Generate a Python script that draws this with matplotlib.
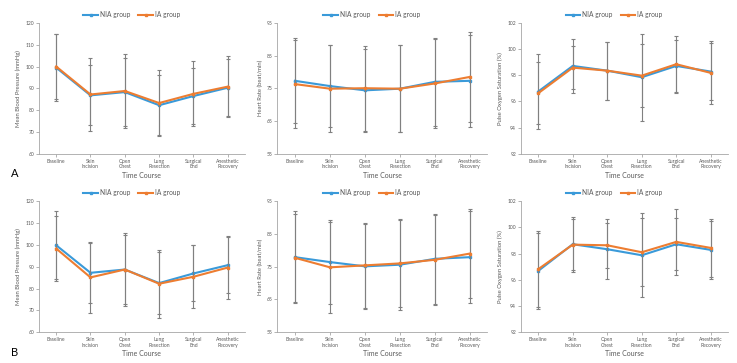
import matplotlib
matplotlib.use("Agg")
import matplotlib.pyplot as plt

plt.rcParams['font.family'] = ['Lato', 'DejaVu Sans']

cats = ["Baseline", "Skin\nIncision", "Open\nChest", "Lung\nResection",
        "Surgical\nEnd", "Anesthetic\nRecovery"]

# panel A
mbp_nia_a = [99.5, 86.8, 88.3, 82.3, 86.5, 90.3]
mbp_nia_a_sd = [15.5, 13.7, 15.6, 13.7, 12.7, 13.0]
mbp_ia_a = [100.0, 87.2, 88.8, 83.3, 87.5, 90.8]
mbp_ia_a_sd = [15.0, 16.7, 16.9, 15.0, 14.8, 14.0]
hr_nia_a = [77.3, 75.7, 74.4, 74.9, 77.0, 77.3]
hr_nia_a_sd = [13.0, 12.4, 12.6, 13.2, 13.5, 14.0]
hr_ia_a = [76.3, 74.9, 75.05, 74.9, 76.5, 78.5]
hr_ia_a_sd = [13.5, 13.2, 13.0, 13.2, 13.6, 13.6]
spo2_nia_a = [96.76, 98.71, 98.35, 97.85, 98.71, 98.28]
spo2_nia_a_sd = [2.86, 2.07, 2.2, 3.3, 2.0, 2.2]
spo2_ia_a = [96.63, 98.58, 98.35, 97.97, 98.84, 98.18]
spo2_ia_a_sd = [2.38, 1.65, 2.2, 2.4, 2.17, 2.4]

# panel B
mbp_nia_b = [99.8, 87.2, 88.7, 82.5, 86.9, 90.7]
mbp_nia_b_sd = [15.5, 13.8, 15.6, 14.2, 12.8, 12.7]
mbp_ia_b = [98.3, 85.1, 88.7, 82.2, 85.4, 89.6]
mbp_ia_b_sd = [14.8, 16.2, 16.6, 15.6, 14.3, 14.6]
hr_nia_b = [77.9, 76.4, 75.1, 75.6, 77.4, 77.9]
hr_nia_b_sd = [14.0, 12.7, 13.0, 13.7, 13.7, 14.0]
hr_ia_b = [77.7, 74.8, 75.4, 76.0, 77.1, 79.0]
hr_ia_b_sd = [13.4, 13.8, 13.0, 13.4, 13.7, 13.7]
spo2_nia_b = [96.68, 98.71, 98.33, 97.87, 98.71, 98.28]
spo2_nia_b_sd = [2.9, 2.1, 2.3, 3.2, 2.0, 2.2]
spo2_ia_b = [96.81, 98.68, 98.63, 98.10, 98.89, 98.43]
spo2_ia_b_sd = [2.9, 1.95, 1.7, 2.6, 2.5, 2.2]

BLUE = '#3A9AD9'
ORANGE = '#ED7D31'
GREY = '#808080'
TXT = '#595959'

fig = plt.figure(figsize=(7.37, 3.63), dpi=100)

def panel(rect, nia, nia_sd, ia, ia_sd, ylim, step, ylabel):
    ax = fig.add_axes(rect)
    x = list(range(len(cats)))
    ax.errorbar(x, nia, yerr=nia_sd, color=BLUE, ecolor=GREY, elinewidth=0.8,
                capsize=1.3, capthick=0.8, lw=1.5, marker='s', ms=2,
                label='NIA group', zorder=2)
    ax.errorbar(x, ia, yerr=ia_sd, color=ORANGE, ecolor=GREY, elinewidth=0.8,
                capsize=1.3, capthick=0.8, lw=1.5, marker='s', ms=2,
                label='IA group', zorder=3)
    ax.set_xlim(-0.5, len(cats) - 0.5)
    ax.set_ylim(*ylim)
    ax.set_yticks(range(ylim[0], ylim[1] + 1, step))
    ax.set_xticks(x)
    ax.set_xticklabels(cats, fontsize=3.6, color=TXT, linespacing=1.1)
    ax.tick_params(axis='y', labelsize=3.6, labelcolor=TXT, length=2,
                   width=0.6, color='#A6A6A6', pad=1.5)
    ax.tick_params(axis='x', length=2, width=0.6, color='#A6A6A6', pad=1.5)
    for s in ['top', 'right']:
        ax.spines[s].set_visible(False)
    for s in ['left', 'bottom']:
        ax.spines[s].set_color('#A6A6A6')
        ax.spines[s].set_linewidth(0.6)
    ax.set_ylabel(ylabel, fontsize=4.2, color=TXT, labelpad=3)
    ax.set_xlabel('Time Course', fontsize=5, color=TXT, labelpad=2)
    handles = [h[0] if isinstance(h, tuple) or hasattr(h, '__getitem__') else h
               for h in ax.get_legend_handles_labels()[0]]
    ax.legend(handles, ['NIA group', 'IA group'], loc='lower center',
              bbox_to_anchor=(0.45, 1.0), ncol=2, frameon=False,
              fontsize=4.8, handlelength=2.2, handletextpad=0.3,
              columnspacing=1.2, borderaxespad=0.3, labelcolor=TXT)
    return ax

rows = [
    (0.5758, [(mbp_nia_a, mbp_nia_a_sd, mbp_ia_a, mbp_ia_a_sd),
              (hr_nia_a, hr_nia_a_sd, hr_ia_a, hr_ia_a_sd),
              (spo2_nia_a, spo2_nia_a_sd, spo2_ia_a, spo2_ia_a_sd)]),
    (0.0846, [(mbp_nia_b, mbp_nia_b_sd, mbp_ia_b, mbp_ia_b_sd),
              (hr_nia_b, hr_nia_b_sd, hr_ia_b, hr_ia_b_sd),
              (spo2_nia_b, spo2_nia_b_sd, spo2_ia_b, spo2_ia_b_sd)]),
]
lefts = [0.0529, 0.3765, 0.7069]
widths = [0.2795, 0.2849, 0.2809]
ylims = [(60, 120), (55, 95), (92, 102)]
steps = [10, 10, 2]
ylabels = ['Mean Blood Pressure (mmHg)', 'Heart Rate (beat/min)',
           'Pulse Oxygen Saturation (%)']

for bottom, series in rows:
    for i, (a, b, c, d) in enumerate(series):
        panel([lefts[i], bottom, widths[i], 0.3615], a, b, c, d,
              ylims[i], steps[i], ylabels[i])

fig.text(0.015, 1 - 173 / 363, 'A', fontsize=8, va='center', ha='left')
fig.text(0.015, 1 - 353 / 363, 'B', fontsize=8, va='center', ha='left')

fig.savefig('out.png', dpi=100)
